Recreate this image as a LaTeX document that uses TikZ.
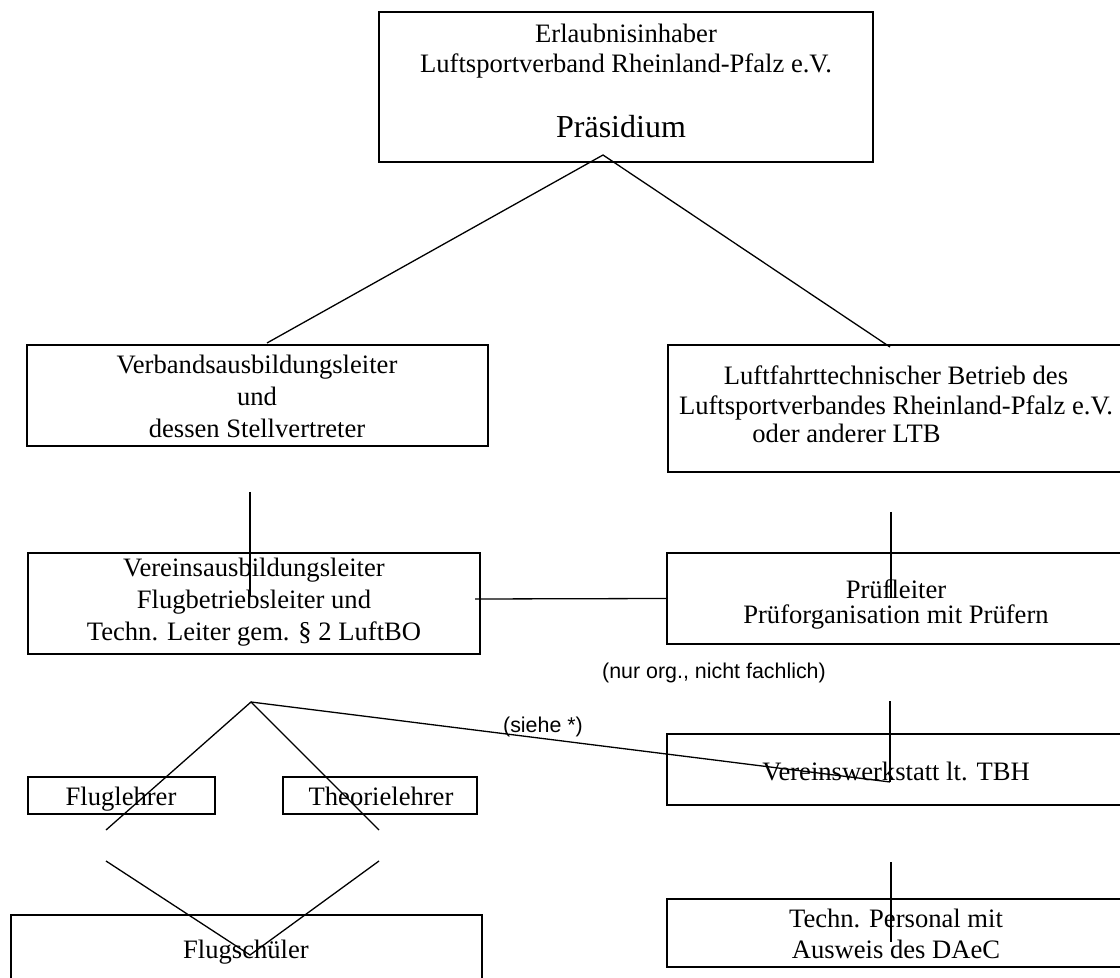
\documentclass[tikz,border=0pt]{standalone}
\usepackage{fontspec}
\setmainfont{Liberation Serif}
\setsansfont{Liberation Sans}
\usetikzlibrary{positioning,fit}

\tikzset{
	orgbox/.style={draw, line width=1pt, inner sep=0pt},
	boxtext/.style={inner sep=0pt, align=center, anchor=north, font=\fontsize{13.3}{16}\selectfont},
	linetext/.style={inner sep=0pt, anchor=base, font=\fontsize{13.3}{16}\selectfont},
	remark/.style={inner sep=0pt, anchor=base, font=\sffamily\fontsize{10.7}{12.8}\selectfont},
	link/.style={line width=0.65pt}
}

\begin{document}
\begin{tikzpicture}[x=0.5pt,y=-0.5pt]
		\useasboundingbox (0,0) rectangle (1120,978);
		\clip (0,0) rectangle (1120,978);
		
		% boxes
		\node[orgbox, fit={(379,12) (873,162)}] (praes) {};
		\node[orgbox, fit={(27,345) (488,446)}] (verband) {};
		\node[orgbox, fit={(668,345) (1124,472)}] (ltb) {};
		\node[orgbox, fit={(28,553) (480,654)}] (verein) {};
		\node[orgbox, fit={(667,553) (1124,644)}] (pruef) {};
		\node[orgbox, fit={(667,734) (1124,805)}] (werk) {};
		\node[orgbox, fit={(28,777) (215,814)}] (fluglehrer) {};
		\node[orgbox, fit={(283,777) (477,814)}] (theorie) {};
		\node[orgbox, fit={(11,915) (482,995)}] (schueler) {};
		\node[orgbox, fit={(667,899) (1124,967)}] (personal) {};
		
		% texts
		\node[boxtext, font=\fontsize{13.3}{15}\selectfont] (praesText) at (626,24) {Erlaubnisinhaber\\Luftsportverband Rheinland-Pfalz e.V.};
		\node[linetext, font=\fontsize{16}{19}\selectfont] (praesName) at (621,138) {Präsidium};
		\node[boxtext] (verbandText) at (257,355) {Verbandsausbildungsleiter\\und\\dessen Stellvertreter};
		\node[boxtext, font=\fontsize{13.3}{15}\selectfont] (ltbText) at (896,365) {Luftfahrttechnischer Betrieb des\\Luftsportverbandes Rheinland-Pfalz e.V.};
		\node[linetext, anchor=base west] (ltbOther) at (752,443) {oder anderer LTB};
		\node[boxtext] (vereinText) at (254,558) {Vereinsausbildungsleiter\\Flugbetriebsleiter und\\Techn. Leiter gem. § 2 LuftBO};
		\node[boxtext, font=\fontsize{13.3}{12.5}\selectfont] (pruefText) at (896,579) {Prüfleiter\\Prüforganisation mit Prüfern};
		\node[linetext] (werkText) at (896,780) {Vereinswerkstatt lt. TBH};
		\node[linetext] (fluglehrerText) at (121,805) {Fluglehrer};
		\node[linetext] (theorieText) at (381,805) {Theorielehrer};
		\node[linetext] (schuelerText) at (246,958) {Flugschüler};
		\node[boxtext, font=\fontsize{13.3}{15.5}\selectfont] (personalText) at (896,909) {Techn. Personal mit\\Ausweis des DAeC};
		
		\node[remark] (nurOrg) at (714,678) {(nur org., nicht fachlich)};
		\node[remark] (siehe) at (543,733) {(siehe *)};
		
		% free ends of the connectors
		\coordinate (topApex) at (603,155);
		\coordinate (verbandTop) at (267,343);
		\coordinate (ltbTop) at (890,347);
		\coordinate (verbandDown) at (250,492);
		\coordinate (vereinUp) at (250,596);
		\coordinate (vereinMid) at (475,599);
		\coordinate (ltbDown) at (891,512);
		\coordinate (pruefUp) at (891,598);
		\coordinate (pruefDown) at (890,701);
		\coordinate (werkUp) at (890,782);
		\coordinate (lehrerApex) at (251,702);
		\coordinate (fluglehrerEnd) at (106,830);
		\coordinate (theorieEnd) at (379,830);
		\coordinate (fluglehrerLow) at (106,861);
		\coordinate (theorieLow) at (379,861);
		\coordinate (schuelerApex) at (250,955);
		\coordinate (werkDown) at (891,862);
		\coordinate (personalUp) at (891,942);
		
		% connectors
		\draw[link] (verbandTop) -- (topApex) -- (ltbTop);
		\draw[link] (verbandDown) -- (vereinUp);
		\draw[link] (vereinMid) -- (pruef.west);
		\draw[link] (ltbDown) -- (pruefUp);
		\draw[link] (pruefDown) -- (werkUp);
		\draw[link] (fluglehrerEnd) -- (lehrerApex) -- (theorieEnd);
		\draw[link] (lehrerApex) -- (werkUp);
		\draw[link] (fluglehrerLow) -- (schuelerApex) -- (theorieLow);
		\draw[link] (werkDown) -- (personalUp);
		
\end{tikzpicture}
\end{document}
